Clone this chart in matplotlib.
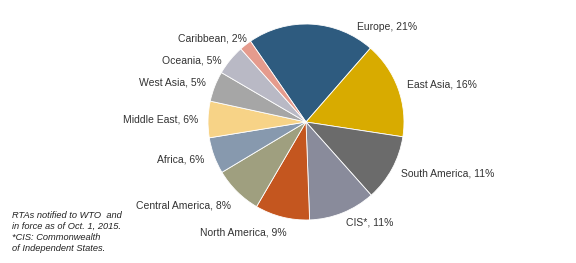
import matplotlib.pyplot as plt

# Datos del grafico
regiones = ['Europe', 'East Asia', 'South America', 'CIS*', 'North America',
            'Central America', 'Africa', 'Middle East', 'West Asia', 'Oceania', 'Caribbean']
porcentajes = [21, 16, 11, 11, 9, 8, 6, 6, 5, 5, 2]
colores = ['#2E5B7F', '#D8AB00', '#6B6B6B', '#898B9B', '#C4561F', '#9F9F7F',
           '#8799AE', '#F7D387', '#A6A6A6', '#B9B9C5', '#E59B8D']

plt.rcParams['font.family'] = ['Liberation Sans', 'DejaVu Sans']

fig = plt.figure(figsize=(5.76, 2.63), dpi=100)
ax = fig.add_axes([208 / 576, 43 / 263, 196 / 576, 196 / 263])

etiquetas = [f'{r}, {p}%' for r, p in zip(regiones, porcentajes)]
wedges, textos = ax.pie(porcentajes, labels=etiquetas, colors=colores, startangle=124.5,
                        counterclock=False, labeldistance=1.1,
                        wedgeprops={'edgecolor': 'white', 'linewidth': 0.6},
                        textprops={'fontsize': 7.5, 'color': '#333333'})
ax.set_xlim(-1, 1)
ax.set_ylim(-1, 1)

# Ajustes de posicion de algunas etiquetas (como en el original)
textos[0].set_position((0.52, 0.97))
textos[0].set_ha('left')
textos[4].set_position((-0.2, -1.13))
textos[5].set_position((-0.77, -0.85))
textos[9].set_position((-0.86, 0.63))
textos[10].set_position((-0.6, 0.85))

# Nota al pie
fig.text(12 / 576, 1 - 211 / 263,
         'RTAs notified to WTO  and\nin force as of Oct. 1, 2015.\n*CIS: Commonwealth\nof Independent States.',
         fontsize=6.7, style='italic', color='#222222', va='top', linespacing=1.3)

fig.savefig('out.png', dpi=100)
